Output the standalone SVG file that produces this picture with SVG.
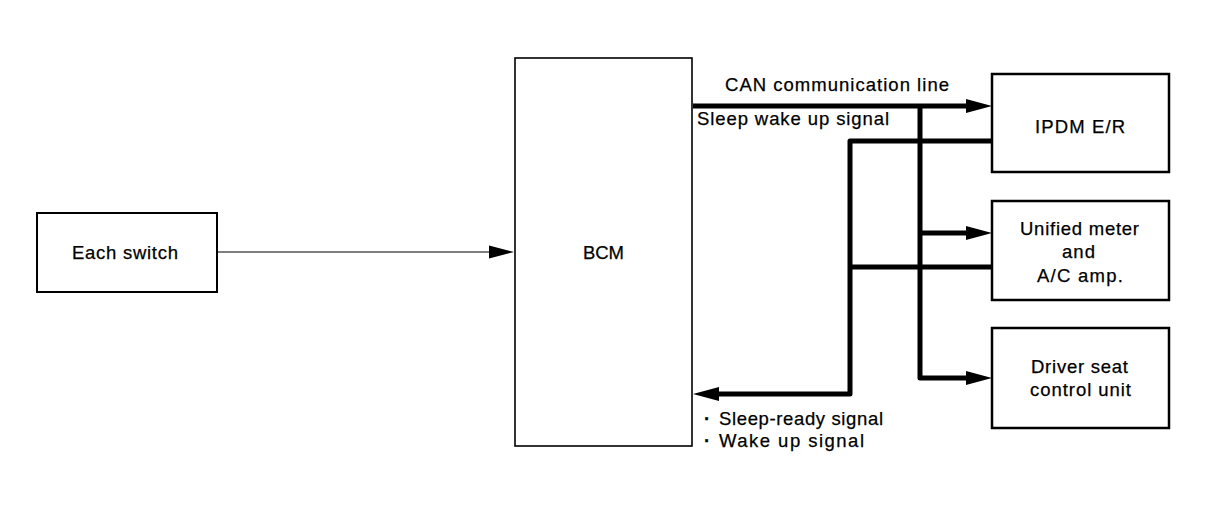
<svg xmlns="http://www.w3.org/2000/svg" width="1216" height="512" viewBox="0 0 1216 512">
<style>
  .box { fill: #fff; stroke: #000; stroke-width: 2; }
  .lbl { font-family: "Liberation Sans", Arial, sans-serif; font-size: 18.5px; fill: #000; stroke: #000; stroke-width: 0.25; }
  .mid { text-anchor: middle; }
  .thick { fill: none; stroke: #000; stroke-width: 5; stroke-linejoin: round; }
  .thin { fill: none; stroke: #000; stroke-width: 1.2; }
</style>
<defs>
  <marker id="ah" markerUnits="userSpaceOnUse" markerWidth="28" markerHeight="16" refX="0" refY="7" orient="auto" viewBox="0 0 28 16" overflow="visible">
    <path d="M0,0 L26,7 L0,14 Z" fill="#000"/>
  </marker>
  <marker id="ahs" markerUnits="userSpaceOnUse" markerWidth="28" markerHeight="16" refX="0" refY="6.5" orient="auto" viewBox="0 0 28 16" overflow="visible">
    <path d="M0,0 L25,6.5 L0,13 Z" fill="#000"/>
  </marker>
</defs>
<rect width="1216" height="512" fill="#fff"/>

<g id="connectors">
  <path class="thin" d="M217,252 H489" marker-end="url(#ahs)"/>
  <path class="thick" d="M693,106 H966" marker-end="url(#ah)"/>
  <path class="thick" d="M920,106 V378 H966" marker-end="url(#ah)"/>
  <path class="thick" d="M920,233 H966" marker-end="url(#ah)"/>
  <path class="thick" d="M991,141 H850 V394 H719" marker-end="url(#ah)"/>
  <path class="thick" d="M850,267 H991"/>
  <text class="lbl" x="725" y="91" textLength="224" lengthAdjust="spacing">CAN communication line</text>
  <text class="lbl" x="697" y="125" textLength="192" lengthAdjust="spacing">Sleep wake up signal</text>
  <text class="lbl"><tspan x="704" y="425" font-weight="bold">·</tspan><tspan x="719" y="425" textLength="164" lengthAdjust="spacing">Sleep-ready signal</tspan></text>
  <text class="lbl"><tspan x="704" y="447" font-weight="bold">·</tspan><tspan x="719" y="447" textLength="145" lengthAdjust="spacing">Wake up signal</tspan></text>
</g>

<g id="each-switch">
  <rect class="box" x="37" y="213" width="180" height="79"/>
  <text class="lbl mid" x="125" y="259" textLength="106" lengthAdjust="spacing">Each switch</text>
</g>

<g id="bcm">
  <rect class="box" x="515" y="58" width="177" height="388" style="stroke-width:1.6"/>
  <text class="lbl mid" x="603.5" y="259" textLength="41" lengthAdjust="spacing">BCM</text>
</g>

<g id="ipdm">
  <rect class="box" x="992" y="74" width="177" height="98" style="stroke-width:2.5"/>
  <text class="lbl mid" x="1080" y="133" textLength="90" lengthAdjust="spacing">IPDM E/R</text>
</g>

<g id="unified-meter">
  <rect class="box" x="992" y="201" width="177" height="99" style="stroke-width:2.5"/>
  <text class="lbl mid" x="1079.5" y="235" textLength="119" lengthAdjust="spacing">Unified meter</text>
  <text class="lbl mid" x="1078.5" y="258" textLength="33" lengthAdjust="spacing">and</text>
  <text class="lbl mid" x="1080" y="282" textLength="86" lengthAdjust="spacing">A/C amp.</text>
</g>

<g id="driver-seat">
  <rect class="box" x="992" y="328" width="177" height="100" style="stroke-width:2.5"/>
  <text class="lbl mid" x="1079.5" y="373" textLength="97" lengthAdjust="spacing">Driver seat</text>
  <text class="lbl mid" x="1080.5" y="396" textLength="101" lengthAdjust="spacing">control unit</text>
</g>
</svg>
